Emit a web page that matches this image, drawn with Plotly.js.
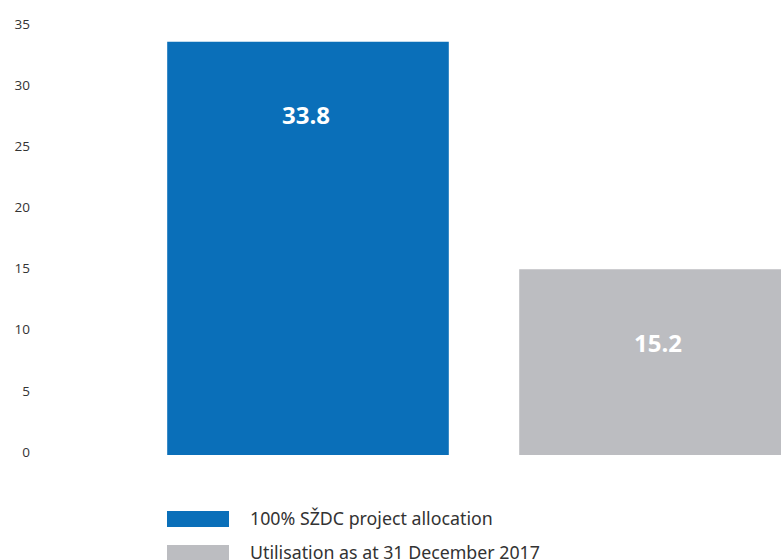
<!DOCTYPE html>
<html>
<head>
<meta charset="utf-8">
<script src="https://cdn.plot.ly/plotly-3.0.1.min.js"></script>
<style>html,body{margin:0;padding:0;background:#fff;}#chart{width:781px;height:560px;}</style>
</head>
<body>
<div id="chart"></div>
<script>
var categories = ["100% SŽDC project allocation", "Utilisation as at 31 December 2017"];
var values = [33.8, 15.2];
var valueLabels = ["33.8", "15.2"];
var colors = ["#0a6fb9", "#bcbdc1"];
var yTicks = [0, 5, 10, 15, 20, 25, 30, 35];

var W = 781, H = 560, L = 38, R = 0, T = 27, B = 105;
var PW = W - L - R, PH = H - T - B;
function px2x(px) { return (px - L) / PW; }
function py2y(py) { return (H - B - py) / PH; }

var trace = {
  type: 'bar',
  x: categories,
  y: values,
  marker: {color: colors, line: {width: 0}},
  hoverinfo: 'none',
  showlegend: false
};

var annotations = [];
var shapes = [];
for (var i = 0; i < categories.length; i++) {
  annotations.push({
    x: categories[i], y: values[i], xref: 'x', yref: 'y',
    text: '<b>' + valueLabels[i] + '</b>', showarrow: false,
    yshift: -73, xshift: -2,
    font: {family: 'Open Sans, sans-serif', size: 24, color: '#ffffff'}
  });
  var rowTop = 511 + i * 34;
  shapes.push({
    type: 'rect', xref: 'paper', yref: 'paper',
    x0: px2x(167), x1: px2x(229), y0: py2y(rowTop), y1: py2y(rowTop + 16),
    fillcolor: colors[i], line: {width: 0}
  });
  annotations.push({
    xref: 'paper', yref: 'paper', x: px2x(248), y: py2y(rowTop + 7),
    xanchor: 'left', yanchor: 'middle', showarrow: false,
    text: categories[i],
    font: {family: 'Noto Sans, sans-serif', size: 17.8, color: '#333333'}
  });
}

var layout = {
  width: W, height: H,
  margin: {l: L, r: R, t: T, b: B, pad: 0},
  paper_bgcolor: '#ffffff', plot_bgcolor: '#ffffff',
  bargap: 0.2,
  xaxis: {
    type: 'category', range: [-270 / 352, 1 + 121 / 352],
    showticklabels: false, showgrid: false, zeroline: false, showline: false, ticks: '', fixedrange: true
  },
  yaxis: {
    range: [0, 35], tickvals: yTicks, ticktext: yTicks.map(String),
    showgrid: false, zeroline: false, showline: false, ticks: '',
    ticklabelstandoff: 7, ticklabelshift: -3,
    tickfont: {family: 'Open Sans, sans-serif', size: 13.5, color: '#333333'},
    fixedrange: true
  },
  annotations: annotations,
  shapes: shapes
};

Plotly.newPlot('chart', [trace], layout, {displayModeBar: false, staticPlot: true});
</script>
</body>
</html>
